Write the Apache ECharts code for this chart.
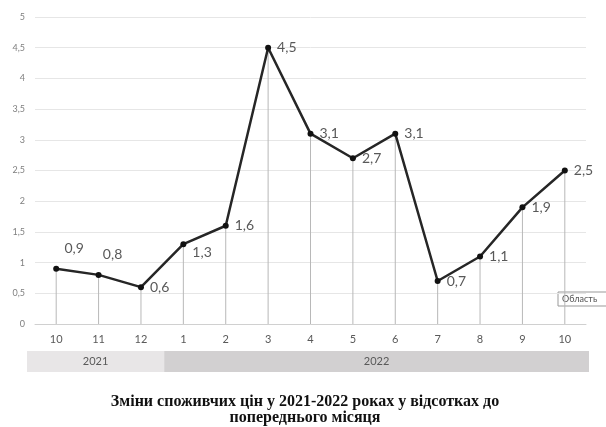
<!DOCTYPE html>
<html>
<head>
<meta charset="utf-8">
<script src="https://cdn.jsdelivr.net/npm/echarts@6/dist/echarts.min.js"></script>
<style>
html,body{margin:0;padding:0;background:#fff;}
#c{width:606px;height:427px;}
</style>
</head>
<body>
<div id="c"></div>
<script>
const months = ['10','11','12','1','2','3','4','5','6','7','8','9','10'];
const values = [0.9, 0.8, 0.6, 1.3, 1.6, 4.5, 3.1, 2.7, 3.1, 0.7, 1.1, 1.9, 2.5];
const yTicks = [0, 0.5, 1, 1.5, 2, 2.5, 3, 3.5, 4, 4.5, 5];
const years = ['2021', '2022'];
const yearSpans = [3, 10];
const titleLines = ['Зміни споживчих цін у 2021-2022 роках у відсотках до', 'попереднього місяця'];

const fmt = v => String(v).replace('.', ',');
const chart = echarts.init(document.getElementById('c'));

const labelCfg = values.map((v, i) => {
  const lbl = {show: true, position: 'right', distance: 6};
  if (i === 0) { lbl.position = 'top'; lbl.offset = [18, -4]; }
  if (i === 1) { lbl.position = 'top'; lbl.offset = [14, -4]; }
  if (i === 3) { lbl.offset = [0, 8]; }
  return {value: v, label: lbl};
});

const gridL = 35, gridR = 20, gridT = 17, gridB = 103;
const W = 606, H = 427;
const plotW = W - gridL - gridR;
const catW = plotW / months.length;
const bandY = 351, bandH = 21;
const bandColors = ['#e8e6e7', '#d2d0d1'];
const graphics = [];
let start = 0;
yearSpans.forEach((n, k) => {
  const x0 = k === 0 ? gridL - 8 : gridL + start * catW + 2;
  const x1 = k === yearSpans.length - 1 ? gridL + (start + n) * catW + 3 : gridL + (start + n) * catW + 2;
  graphics.push({type: 'rect', shape: {x: x0, y: bandY, width: x1 - x0, height: bandH}, style: {fill: bandColors[k]}, silent: true});
  graphics.push({type: 'text', x: (x0 + x1) / 2, y: bandY + bandH / 2, style: {text: years[k], fill: '#595959', font: '11px Lato', textAlign: 'center', textVerticalAlign: 'middle'}});
  start += n;
});
titleLines.forEach((t, k) => {
  graphics.push({type: 'text', x: 305, y: 402 + k * 16, style: {text: t, fill: '#111', font: 'bold 16px "Liberation Serif"', textAlign: 'center', textVerticalAlign: 'middle'}});
});
graphics.push({type: 'rect', shape: {x: 558, y: 292, width: 60, height: 14}, style: {fill: '#fff', stroke: '#999', lineWidth: 1}});
graphics.push({type: 'text', x: 562, y: 299, style: {text: 'Область', fill: '#555', font: '9px Lato', textVerticalAlign: 'middle'}});

chart.setOption({
  animation: false,
  backgroundColor: '#fff',
  grid: {left: gridL, right: gridR, top: gridT, bottom: gridB},
  xAxis: {
    type: 'category',
    data: months,
    boundaryGap: true,
    axisLine: {lineStyle: {color: '#d0d0d0'}},
    axisTick: {show: false},
    axisLabel: {color: '#595959', fontSize: 11, fontFamily: 'Lato', margin: 10}
  },
  yAxis: {
    type: 'value',
    min: yTicks[0],
    max: yTicks[yTicks.length - 1],
    interval: 0.5,
    axisLine: {show: false},
    axisTick: {show: false},
    splitLine: {lineStyle: {color: '#e6e6e6'}},
    axisLabel: {color: '#7f7f7f', fontSize: 9, fontFamily: 'Lato', margin: 10, formatter: v => fmt(v)}
  },
  series: [
    {
      type: 'bar',
      data: values,
      barWidth: 1,
      itemStyle: {color: '#b8b8b8'},
      silent: true,
      z: 1
    },
    {
      type: 'line',
      data: labelCfg,
      symbol: 'circle',
      symbolSize: 6,
      lineStyle: {color: '#262626', width: 2.5},
      itemStyle: {color: '#111'},
      label: {color: '#595959', fontSize: 14, fontFamily: 'Lato', formatter: p => fmt(p.value)},
      z: 3
    }
  ],
  graphic: graphics
});
</script>
</body>
</html>
